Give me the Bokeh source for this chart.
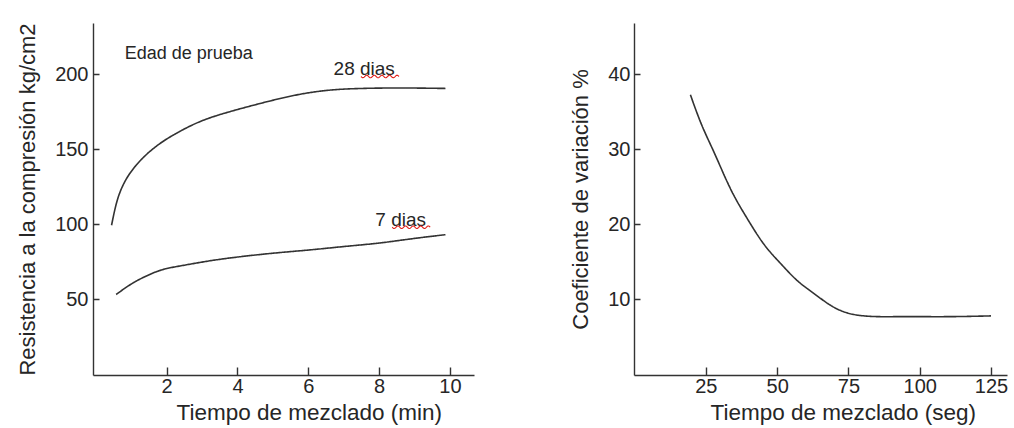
import numpy as np
from bokeh.plotting import figure
from bokeh.layouts import row
from bokeh.models import Range1d, FixedTicker, Title
from bokeh.core.properties import value
from bokeh.embed import file_html
from bokeh.resources import INLINE

# ---- data: left chart (min) ----
t28 = [0.43, 0.54, 0.73, 1.01, 1.39, 1.86, 2.33, 2.80, 3.74, 4.68, 5.62, 6.56, 7.51, 8.45, 9.86]
r28 = [99.5, 111.6, 125.0, 136.1, 146.1, 155.0, 161.7, 167.3, 175.0, 181.0, 186.2, 189.5, 190.7, 191.0, 190.7]
t7 = [0.56, 0.92, 1.39, 1.86, 2.33, 3.27, 4.21, 5.15, 6.10, 7.04, 7.98, 8.92, 9.86]
r7 = [53.3, 59.3, 65.4, 69.8, 72.2, 76.0, 78.9, 81.2, 83.2, 85.4, 87.6, 90.5, 93.2]
left_xticks = [2, 4, 6, 8, 10]
left_yticks = [50, 100, 150, 200]
left_xlabel = "Tiempo de mezclado (min)"
left_ylabel = "Resistencia a la compresión kg/cm2"
label_title = "Edad de prueba"
series_labels = ["28 dias", "7 dias"]

# ---- data: right chart (seg) ----
tseg = [19.4, 22.9, 27.6, 33.4, 39.3, 45.1, 51.0, 56.9, 62.7, 68.6, 74.4, 80.3, 92.0, 110.0, 124.8]
cv = [37.3, 33.7, 29.7, 24.8, 20.8, 17.4, 14.8, 12.5, 10.8, 9.2, 8.2, 7.8, 7.7, 7.7, 7.8]
right_xticks = [25, 50, 75, 100, 125]
right_yticks = [10, 20, 30, 40]
right_xlabel = "Tiempo de mezclado (seg)"
right_ylabel = "Coeficiente de variación %"

FONT = "Liberation Sans"
TXT = "#262626"
LINE = "#333333"


def smooth(xs, ys, n=300):
    """Natural cubic spline through the read points."""
    xs = np.asarray(xs, float)
    ys = np.asarray(ys, float)
    N = len(xs)
    h = np.diff(xs)
    A = np.zeros((N, N))
    b = np.zeros(N)
    A[0, 0] = A[-1, -1] = 1
    for i in range(1, N - 1):
        A[i, i - 1] = h[i - 1]
        A[i, i] = 2 * (h[i - 1] + h[i])
        A[i, i + 1] = h[i]
        b[i] = 3 * ((ys[i + 1] - ys[i]) / h[i] - (ys[i] - ys[i - 1]) / h[i - 1])
    c = np.linalg.solve(A, b)
    bb = (ys[1:] - ys[:-1]) / h - h * (2 * c[:-1] + c[1:]) / 3
    dd = (c[1:] - c[:-1]) / (3 * h)
    xx = np.linspace(xs[0], xs[-1], n)
    idx = np.clip(np.searchsorted(xs, xx, side="right") - 1, 0, N - 2)
    dx = xx - xs[idx]
    yy = ys[idx] + bb[idx] * dx + c[idx] * dx**2 + dd[idx] * dx**3
    return xx, yy


def style(p, xticks, yticks, ylabel):
    p.outline_line_color = None
    p.xgrid.visible = False
    p.ygrid.visible = False
    p.background_fill_color = "white"
    p.border_fill_color = "white"
    for ax in (p.xaxis[0], p.yaxis[0]):
        ax.axis_line_color = LINE
        ax.axis_line_width = 1.4
        ax.major_tick_line_color = LINE
        ax.major_tick_line_width = 1.4
        ax.minor_tick_line_color = None
        ax.major_tick_out = 0
        ax.major_label_text_font = FONT
        ax.major_label_text_font_size = "20px"
        ax.major_label_text_color = TXT
    p.xaxis[0].ticker = FixedTicker(ticks=xticks)
    p.yaxis[0].ticker = FixedTicker(ticks=yticks)
    p.xaxis[0].major_tick_in = 8
    p.yaxis[0].major_tick_in = 6
    p.xaxis[0].major_label_standoff = 3
    p.yaxis[0].major_label_standoff = 5
    ya = p.yaxis[0]
    ya.axis_label = ylabel
    ya.axis_label_text_font = FONT
    ya.axis_label_text_font_size = "22px"
    ya.axis_label_text_font_style = "normal"
    ya.axis_label_text_color = TXT
    ya.axis_label_standoff = 12


def x_title(p, text, offset):
    p.add_layout(Title(text=text, align="left", offset=offset, standoff=4,
                       text_font=FONT, text_font_size="22.5px", text_font_style="normal",
                       text_color=TXT), "below")


# ---------- left figure ----------
XR1 = (-0.08, 10.68)
YR1 = (-0.7, 234)
p1 = figure(width=549, height=428, output_backend="svg", toolbar_location=None,
            x_range=Range1d(*XR1), y_range=Range1d(*YR1),
            min_border_left=93, min_border_right=75, min_border_top=23, min_border_bottom=53)
style(p1, left_xticks, left_yticks, left_ylabel)
x_title(p1, left_xlabel, 83)

x, y = smooth(t28, r28)
p1.line(x, y, line_color=LINE, line_width=1.6)
x, y = smooth(t7, r7)
p1.line(x, y, line_color=LINE, line_width=1.6)

p1.text(x=[0.8], y=[214.5], text=[label_title], text_font=value(FONT), text_font_size="18px",
        text_color=TXT, text_baseline="middle", text_align="left")
lab_x = [6.70, 7.88]
lab_y = [204, 103.5]
p1.text(x=lab_x, y=lab_y, text=series_labels, text_font=value(FONT), text_font_size="19px",
        text_color=TXT, text_baseline="middle", text_align="left")

# red spell-check squiggles under "dias" (derived from the label anchors)
pxu_x = 381 / (XR1[1] - XR1[0])
pxu_y = 352 / (YR1[1] - YR1[0])
for lx, ly, lab in zip(lab_x, lab_y, series_labels):
    prefix = lab.split(" ")[0]
    off_px = len(prefix) * 0.556 * 19 + 0.278 * 19 + 1
    w_px = 38
    s = np.linspace(0, w_px, 60)
    sx = lx + (off_px + s) / pxu_x
    sy = ly + (-8 - 1.3 * np.sin(s / w_px * 2 * np.pi * 5)) / pxu_y
    p1.line(sx, sy, line_color="#e0201a", line_width=1.1)

# ---------- right figure ----------
p2 = figure(width=465, height=428, output_backend="svg", toolbar_location=None,
            x_range=Range1d(-0.2, 130.6), y_range=Range1d(-0.15, 46.8),
            min_border_left=85, min_border_right=7, min_border_top=23, min_border_bottom=53)
style(p2, right_xticks, right_yticks, right_ylabel)
p2.yaxis[0].major_label_standoff = 4
x_title(p2, right_xlabel, 76)
x, y = smooth(tseg, cv)
p2.line(x, y, line_color=LINE, line_width=1.6)

layout = row(p1, p2)
open("out.html", "w").write(file_html(layout, INLINE))
